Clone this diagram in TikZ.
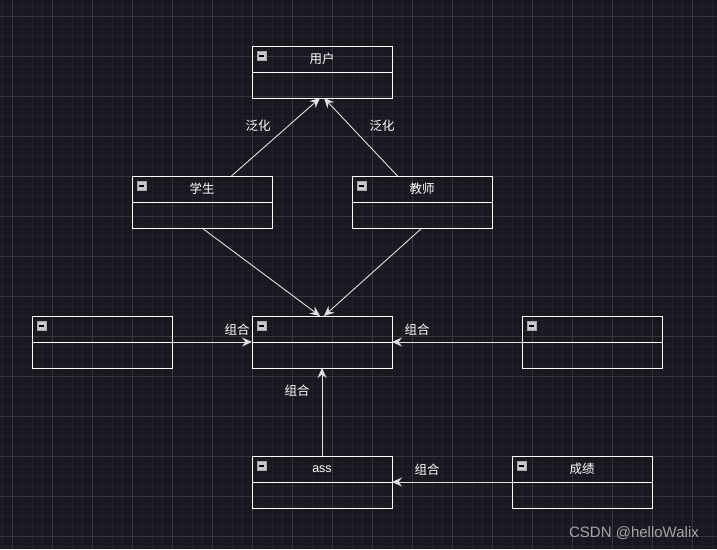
\documentclass[tikz,border=0pt]{standalone}
\usepackage{fontspec}
\setmainfont{Liberation Sans}
\newfontfamily\cjk{Noto Sans CJK SC}
\usetikzlibrary{arrows.meta}
\definecolor{bgc}{RGB}{25,23,32}
\definecolor{minorc}{RGB}{34,32,41}
\definecolor{majorc}{RGB}{56,55,63}
\definecolor{edgec}{RGB}{225,225,225}
\definecolor{wmc}{RGB}{165,165,170}
\definecolor{iconc}{RGB}{200,200,205}
\tikzset{
  classbox/.style={draw=white, line width=1pt, minimum width=140pt, minimum height=52pt, inner sep=0pt, outer sep=0pt},
  lbl/.style={text=white, font=\cjk\fontsize{12.5}{14}\selectfont, inner sep=0pt},
  ttl/.style={text=white, font=\cjk\fontsize{12.5}{14}\selectfont, inner sep=0pt},
  conn/.style={draw=edgec, line width=0.9pt, -{Stealth[length=10pt,width=9pt,inset=3.5pt]}},
}
\newcommand{\classnode}[4]{%
  \node[classbox] (#1) at (#2,#3) {};
  \draw[white, line width=1pt] ([yshift=-26pt]#1.north west) -- ([yshift=-26pt]#1.north east);
  \node[ttl] (#1t) at ([yshift=-13pt]#1.north) {#4};
  \node[draw=gray!70, line width=0.5pt, fill=iconc, minimum size=9pt, inner sep=0pt] (#1i) at ([xshift=9.5pt,yshift=-10pt]#1.north west) {};
  \draw[black, line width=1.5pt] ([xshift=-2.8pt]#1i.center) -- ([xshift=2.8pt]#1i.center);
}
\begin{document}
\begin{tikzpicture}[x=1pt,y=-1pt]
\fill[bgc] (0,0) rectangle (717,549);
\useasboundingbox (0,0) rectangle (717,549);
\foreach \x in {2,12,...,712} \draw[minorc, line width=0.8pt] (\x,0) -- (\x,549);
\foreach \y in {6,16,...,546} \draw[minorc, line width=0.8pt] (0,\y) -- (717,\y);
\foreach \x in {12,52,...,712} \draw[majorc, line width=0.9pt] (\x,0) -- (\x,549);
\foreach \y in {16,56,...,546} \draw[majorc, line width=0.9pt] (0,\y) -- (717,\y);

\classnode{user}{322}{72}{用户}
\classnode{stu}{202}{202}{学生}
\classnode{tea}{422}{202}{教师}
\classnode{mid}{322}{342}{}
\classnode{left}{102}{342}{}
\classnode{right}{592}{342}{}
\classnode{ass}{322}{482}{\fontspec{Liberation Sans}ass}
\classnode{score}{582}{482}{成绩}

\draw[conn] (stu) -- ([xshift=-2pt]user.south);
\draw[conn] (tea) -- ([xshift=2pt]user.south);
\draw[conn] (stu.south) -- ([xshift=-2pt]mid.north);
\draw[conn] (tea.south) -- ([xshift=2pt]mid.north);
\draw[conn] (left.east) -- (mid.west);
\draw[conn] (right.west) -- (mid.east);
\draw[conn] (ass.north) -- (mid.south);
\draw[conn] (score.west) -- (ass.east);

\node[lbl] (l1) at (258,126) {泛化};
\node[lbl] (l2) at (382,126) {泛化};
\node[lbl] (l3) at (237,330) {组合};
\node[lbl] (l4) at (417,330) {组合};
\node[lbl] (l5) at (297,391) {组合};
\node[lbl] (l6) at (427,470) {组合};

\node[text=wmc, font=\fontsize{15}{17}\selectfont, inner sep=0pt] (wm) at (634,533) {CSDN @helloWalix};
\end{tikzpicture}
\end{document}
